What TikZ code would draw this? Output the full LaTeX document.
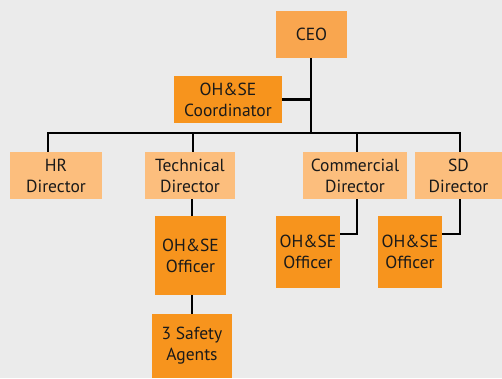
\documentclass[tikz,border=0pt]{standalone}
\usepackage{fontspec}
\setmainfont{PT Sans}
\definecolor{bg}{HTML}{EBEBEB}
\definecolor{ceoc}{HTML}{F9A64F}
\definecolor{darkc}{HTML}{F7941D}
\definecolor{lightc}{HTML}{FCBE7D}
\definecolor{txt}{HTML}{1A1A1A}
\begin{document}
\begin{tikzpicture}[x=1pt,y=-1pt,
  box/.style={inner sep=0pt, align=center, text=txt, font=\fontsize{17.5}{21}\selectfont},
  line/.style={line width=2.2pt, black}]
\fill[bg] (0,0) rectangle (502,378);
\useasboundingbox (0,0) rectangle (502,378);
% boxes
\node[box, fill=ceoc, minimum width=71pt, minimum height=47pt] (ceo) at (311.5,34.5) {CEO};
\node[box, fill=darkc, minimum width=108pt, minimum height=47pt] (coord) at (228,99.5) {OH\&SE\\Coordinator};
\node[box, fill=lightc, minimum width=92pt, minimum height=47pt] (hr) at (56,175.5) {HR\\Director};
\node[box, fill=lightc, minimum width=90pt, minimum height=47pt] (tech) at (190,175.5) {Technical\\Director};
\node[box, fill=lightc, minimum width=104pt, minimum height=47pt] (comm) at (355,175.5) {Commercial\\Director};
\node[box, fill=lightc, minimum width=87pt, minimum height=47pt] (sd) at (458.5,175.5) {SD\\Director};
\node[box, fill=darkc, minimum width=71pt, minimum height=79pt] (toff) at (190.5,255.5) {OH\&SE\\Officer};
\node[box, fill=darkc, minimum width=64pt, minimum height=72pt] (coff) at (308,252) {OH\&SE\\Officer};
\node[box, fill=darkc, minimum width=64pt, minimum height=72pt] (soff) at (410,252) {OH\&SE\\Officer};
\node[box, fill=darkc, minimum width=80pt, minimum height=64pt] (agents) at (192,346) {3 Safety\\Agents};
% connectors
\coordinate (bus) at (311,133);
\draw[line] (ceo.south -| bus) -- (bus);
\draw[line] (coord.east) -- (coord.east -| bus);
\draw[line] (hr.north -| 48,0) |- (bus);
\draw[line] (bus) -| (sd.north -| 460,0);
\draw[line] (tech.north -| 193,0) -- (193,133);
\draw[line] (comm.north -| 357,0) -- (357,133);
\draw[line] (tech.south -| 192,0) -- (toff.north -| 192,0);
\draw[line] (toff.south -| 192,0) -- (agents.north -| 192,0);
\draw[line] (comm.south -| 357,0) |- (coff.east |- 0,234);
\draw[line] (sd.south -| 460,0) |- (soff.east |- 0,234);
\end{tikzpicture}
\end{document}
